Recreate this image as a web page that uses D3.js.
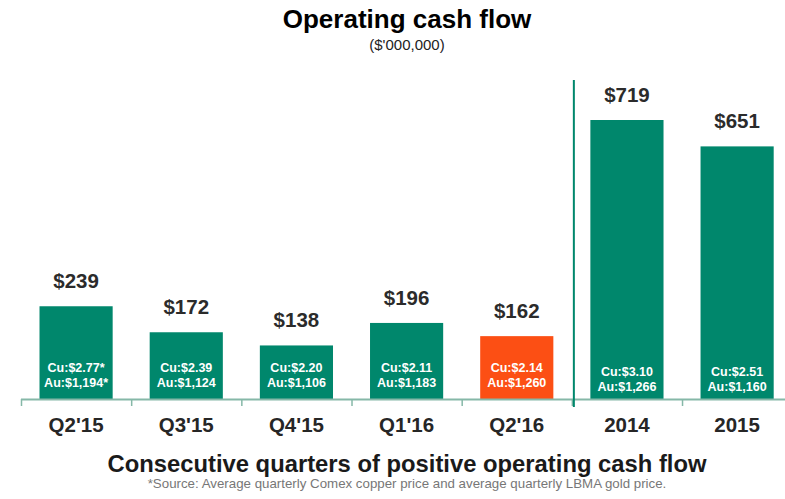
<!DOCTYPE html>
<html><head><meta charset="utf-8">
<script src="https://cdn.jsdelivr.net/npm/d3@7"></script>
<style>body{margin:0;background:#fff}svg{display:block}text{font-family:"Liberation Sans",Arial,sans-serif}</style>
</head><body><svg id="c" width="785" height="499"></svg>
<script>
const categories = ["Q2'15","Q3'15","Q4'15","Q1'16","Q2'16","2014","2015"];
const values = [239,172,138,196,162,719,651];
const copper = ["Cu:$2.77*","Cu:$2.39","Cu:$2.20","Cu:$2.11","Cu:$2.14","Cu:$3.10","Cu:$2.51"];
const gold = ["Au:$1,194*","Au:$1,124","Au:$1,106","Au:$1,183","Au:$1,260","Au:$1,266","Au:$1,160"];
const annual = ["2014","2015"];
const highlight = ["Q2'16"];
const data = categories.map((c,i)=>({c,v:values[i],cu:copper[i],au:gold[i]}));

const svg = d3.select("#c");
const base = 399;
const x = d3.scaleBand().domain(categories).range([21,792.2]).paddingInner(0.336).paddingOuter(0.168);
const y = d3.scaleLinear().domain([0,719]).range([base, base-279]);
const teal = "#00876c", orange = "#fc4f14";

// bars
svg.selectAll("rect.bar").data(data).join("rect")
  .attr("x",d=>x(d.c)).attr("width",x.bandwidth())
  .attr("y",d=>y(d.v)).attr("height",d=>base-y(d.v))
  .attr("fill",d=>highlight.includes(d.c)?orange:teal);

// axis line and ticks
svg.append("line").attr("x1",21).attr("x2",785).attr("y1",base+0.5).attr("y2",base+0.5)
  .attr("stroke","#86b8a8").attr("stroke-width",2);
const step = x.step();
const bounds = categories.map((c,i)=>x.range()[0]+i*step);
svg.selectAll("line.tick").data(bounds).join("line")
  .attr("x1",d=>d+0.5).attr("x2",d=>d+0.5).attr("y1",base).attr("y2",base+7)
  .attr("stroke","#86b8a8").attr("stroke-width",1.5);

// divider between quarters and years
const divX = x("2014") - x.paddingOuter()*step + 2;
svg.append("line").attr("x1",divX).attr("x2",divX).attr("y1",80).attr("y2",407)
  .attr("stroke",teal).attr("stroke-width",2);

// value labels
svg.selectAll("text.val").data(data).join("text")
  .attr("x",d=>x(d.c)+x.bandwidth()/2).attr("y",d=>y(d.v)-18)
  .attr("text-anchor","middle").attr("font-size",20.5).attr("font-weight","bold").attr("fill","#2b2b2b")
  .text(d=>"$"+d.v);

// inner labels
const inner = svg.selectAll("g.inner").data(data).join("g");
inner.append("text")
  .attr("x",d=>x(d.c)+x.bandwidth()/2).attr("y",d=>base-(annual.includes(d.c)?23:27))
  .attr("text-anchor","middle").attr("font-size",12.5).attr("font-weight","bold").attr("fill","#fff")
  .text(d=>d.cu);
inner.append("text")
  .attr("x",d=>x(d.c)+x.bandwidth()/2).attr("y",d=>base-(annual.includes(d.c)?8:12))
  .attr("text-anchor","middle").attr("font-size",12.5).attr("font-weight","bold").attr("fill","#fff")
  .text(d=>d.au);

// category labels
svg.selectAll("text.cat").data(categories).join("text")
  .attr("x",d=>x(d)+x.bandwidth()/2).attr("y",432)
  .attr("text-anchor","middle").attr("font-size",20.5).attr("font-weight","bold").attr("fill","#262626")
  .text(d=>d);

// titles
const cx = 407;
svg.append("text").attr("x",cx).attr("y",28).attr("text-anchor","middle")
  .attr("font-size",26).attr("font-weight","bold").attr("fill","#000").text("Operating cash flow");
svg.append("text").attr("x",cx).attr("y",50).attr("text-anchor","middle")
  .attr("font-size",15).attr("fill","#222").text("($'000,000)");
svg.append("text").attr("x",cx).attr("y",472).attr("text-anchor","middle")
  .attr("font-size",23.8).attr("font-weight","bold").attr("fill","#1a1a1a").text("Consecutive quarters of positive operating cash flow");
svg.append("text").attr("x",cx).attr("y",488).attr("text-anchor","middle")
  .attr("font-size",13.3).attr("fill","#777").text("*Source: Average quarterly Comex copper price and average quarterly LBMA gold price.");
</script></body></html>
